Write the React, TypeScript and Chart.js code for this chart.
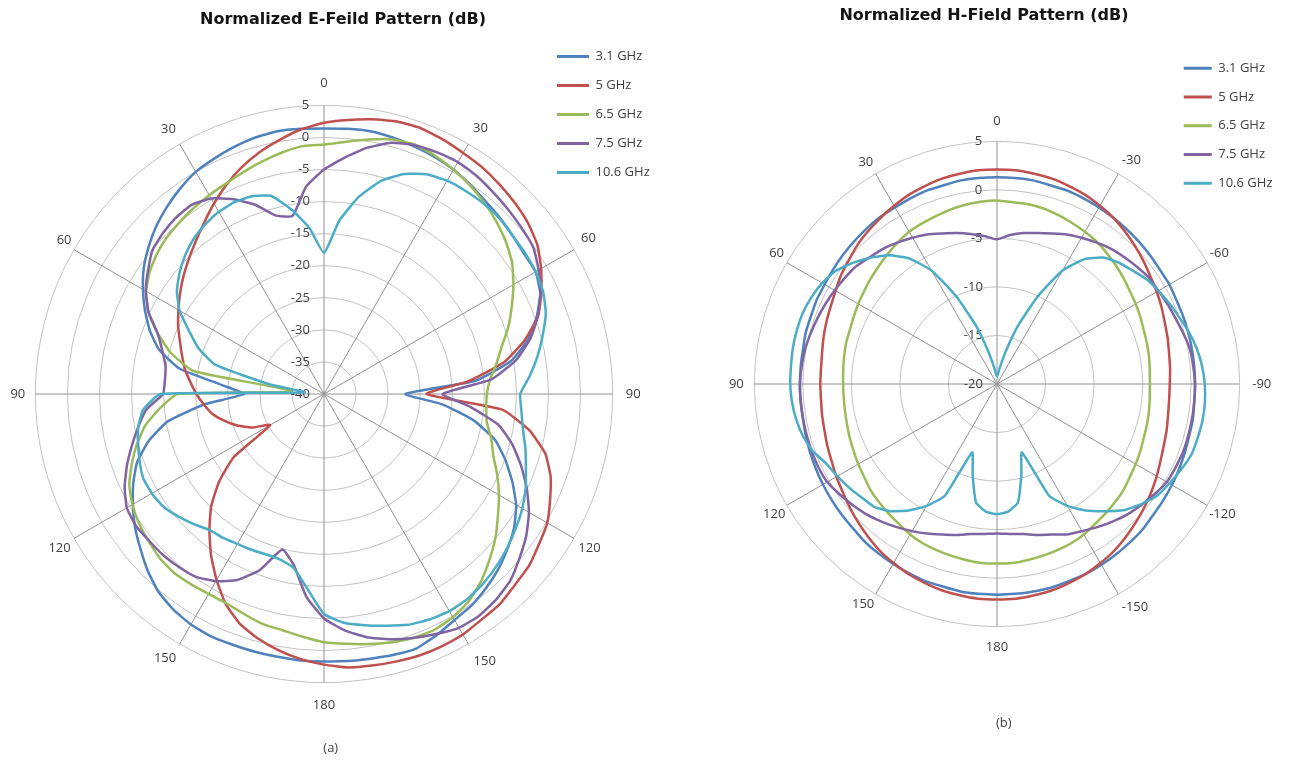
import React, { useEffect, useRef } from 'react';
import { Chart, registerables } from 'chart.js';

Chart.register(...registerables);

// ---------- categories: angle in degrees, clockwise from the top ----------
const ANGLES = Array.from({ length: 72 }, (_, i) => i * 5);
const E_AXIS_LABELS = ['0', '30', '60', '90', '120', '150', '180', '150', '120', '90', '60', '30'];
const H_AXIS_LABELS = ['0', '-30', '-60', '-90', '-120', '-150', '180', '150', '120', '90', '60', '30'];

const SERIES = ['3.1 GHz', '5 GHz', '6.5 GHz', '7.5 GHz', '10.6 GHz'];
const COLORS = ['#4F81BD', '#C0504D', '#9BBB59', '#8064A2', '#4BACC6'];

const E_MIN = -40;
const E_MAX = 5;
const H_MIN = -20;
const H_MAX = 5;
const STEP = 5;

// ---------- E-plane (dB), 0..355 deg step 5 ----------
const E_31 = [
  1.4, 1.5, 1.6, 1.4, 1.1, 0.8, 0.4, -0.2, -0.8, -1.2, -1.6, -1.9,
  -1.9, -2.8, -4.7, -7.0, -10.4, -16.3, -27.3, -21.5, -16.3, -12.4, -9.9, -7.6,
  -5.4, -3.8, -2.6, -1.5, -0.6, 0.2, 0.7, 1.5, 2.2, 2.1, 1.9, 1.8,
  1.7, 1.7, 1.6, 1.6, 1.6, 1.7, 1.5, 1.0, 0.2, -1.1, -2.6, -4.0,
  -5.6, -7.2, -9.0, -11.7, -15.2, -21.2, -27.5, -24.0, -17.1, -13.4, -11.1, -9.2,
  -7.4, -5.7, -4.3, -3.0, -1.9, -0.9, 0.0, 0.5, 1.0, 1.4, 1.6, 1.5,
];
const E_5 = [
  2.3, 2.9, 3.5, 4.0, 4.1, 3.8, 3.4, 3.1, 2.6, 2.1, 1.5, 0.6,
  -0.9, -2.6, -4.5, -7.6, -11.5, -17.5, -24.0, -12.1, -7.5, -4.3, -2.4, -1.1,
  0.2, 0.9, 1.7, 2.1, 2.7, 2.9, 3.3, 3.4, 3.4, 3.2, 3.0, 2.8,
  2.2, 1.5, 0.6, -0.5, -1.8, -3.8, -6.5, -9.3, -12.2, -15.1, -18.6, -22.8,
  -30.3, -27.6, -25.6, -23.9, -22.3, -21.2, -20.1, -19.1, -18.0, -17.1, -16.1, -14.9,
  -13.8, -12.6, -11.4, -10.2, -8.9, -7.4, -5.7, -4.0, -2.4, -1.0, 0.2, 1.4,
];
const E_65 = [
  -1.1, -0.5, 0.3, 1.1, 1.4, 1.0, 0.4, -0.3, -1.1, -2.0, -3.0, -4.2,
  -5.9, -7.7, -9.4, -11.3, -12.7, -14.0, -14.6, -14.6, -14.2, -13.0, -11.9, -10.2,
  -8.5, -6.9, -5.1, -3.5, -1.9, -0.6, 0.2, 0.6, 0.5, 0.1, -0.4, -0.9,
  -1.3, -2.0, -2.6, -2.9, -3.5, -4.0, -4.0, -3.8, -3.6, -3.8, -4.3, -4.8,
  -5.5, -6.5, -8.1, -9.8, -11.7, -14.3, -17.2, -35.0, -19.3, -15.3, -12.4, -9.8,
  -8.0, -6.8, -6.0, -5.4, -5.0, -4.6, -4.2, -3.8, -3.2, -2.5, -1.8, -1.2,
];
const E_75 = [
  -5.0, -3.0, -1.0, 0.55, 1.3, 1.6, 1.75, 1.5, 1.05, 0.65, 0.25, -0.15,
  -1.35, -2.75, -4.5, -6.7, -9.6, -13.8, -21.5, -17.1, -12.4, -9.6, -7.3, -5.1,
  -3.1, -1.5, -0.2, 1.1, 1.8, 2.2, 2.1, 1.3, 0.5, -0.4, -1.5, -3.0,
  -5.0, -8.3, -12.9, -14.9, -10.8, -8.0, -6.3, -5.2, -4.8, -4.5, -4.4, -4.2,
  -4.5, -5.7, -7.3, -9.0, -10.6, -12.2, -14.9, -15.1, -14.9, -13.9, -12.4, -9.8,
  -7.9, -6.5, -5.1, -4.5, -4.1, -4.0, -4.8, -6.5, -8.6, -11.2, -11.8, -7.6,
];
const E_106 = [
  -18.0, -12.9, -8.8, -5.6, -3.5, -2.2, -1.6, -1.4, -1.25, -1.3, -1.6, -1.7,
  -1.9, -2.3, -3.2, -4.7, -6.2, -7.8, -9.4, -9.1, -8.5, -7.5, -6.5, -5.3,
  -4.3, -3.5, -2.7, -2.0, -1.4, -1.0, -0.9, -1.2, -1.7, -2.6, -3.4, -4.2,
  -5.7, -9.6, -12.5, -13.3, -13.4, -13.2, -13.0, -12.6, -12.3, -11.3, -10.3, -9.4,
  -9.0, -8.9, -9.4, -10.0, -10.6, -11.7, -14.5, -37.0, -31.5, -22.5, -19.2, -16.8,
  -14.0, -12.0, -10.6, -9.4, -8.4, -7.7, -7.2, -7.0, -7.2, -8.0, -10.8, -14.0,
];

// ---------- H-plane (dB), 0..355 deg step 5 ----------
const H_31 = [
  1.3, 1.3, 1.3, 1.2, 1.2, 1.1, 1.0, 0.9, 0.8, 0.7, 0.6, 0.5,
  0.5, 0.4, 0.4, 0.4, 0.4, 0.4, 0.4, 0.4, 0.5, 0.5, 0.6, 0.7,
  0.8, 0.9, 1.0, 1.2, 1.3, 1.4, 1.5, 1.6, 1.6, 1.7, 1.7, 1.7,
  1.7, 1.7, 1.7, 1.6, 1.6, 1.5, 1.4, 1.3, 1.2, 1.0, 0.9, 0.8,
  0.7, 0.6, 0.5, 0.4, 0.3, 0.3, 0.3, 0.3, 0.3, 0.4, 0.4, 0.5,
  0.5, 0.6, 0.7, 0.8, 0.9, 1.0, 1.0, 1.1, 1.2, 1.2, 1.3, 1.3,
];
const H_5 = [
  2.1, 2.1, 2.0, 1.9, 1.7, 1.5, 1.2, 0.9, 0.5, 0.1, -0.3, -0.7,
  -1.0, -1.3, -1.6, -1.8, -2.0, -2.1, -2.2, -2.2, -2.1, -1.9, -1.7, -1.4,
  -1.0, -0.6, -0.2, 0.2, 0.6, 1.0, 1.3, 1.6, 1.8, 2.0, 2.1, 2.2,
  2.2, 2.2, 2.1, 2.0, 1.8, 1.6, 1.3, 1.0, 0.6, 0.2, -0.2, -0.6,
  -0.9, -1.2, -1.4, -1.6, -1.7, -1.8, -1.8, -1.8, -1.7, -1.5, -1.3, -1.1,
  -0.8, -0.4, -0.1, 0.3, 0.6, 0.9, 1.2, 1.5, 1.7, 1.9, 2.0, 2.1,
];
const H_65 = [
  -1.1, -1.2, -1.2, -1.3, -1.5, -1.7, -1.9, -2.1, -2.4, -2.7, -3.0, -3.3,
  -3.5, -3.7, -3.9, -4.0, -4.1, -4.2, -4.25, -4.2, -4.1, -4.0, -3.9, -3.7,
  -3.5, -3.3, -3.0, -2.8, -2.6, -2.4, -2.1, -1.9, -1.8, -1.7, -1.6, -1.5,
  -1.5, -1.5, -1.6, -1.7, -1.8, -1.9, -2.1, -2.4, -2.6, -2.8, -3.0, -3.3,
  -3.5, -3.7, -3.85, -4.0, -4.1, -4.15, -4.15, -4.1, -4.0, -3.9, -3.85, -3.7,
  -3.5, -3.3, -3.05, -2.8, -2.5, -2.2, -1.9, -1.75, -1.6, -1.4, -1.25, -1.15,
];
const H_75 = [
  -5.1, -4.6, -4.2, -3.9, -3.5, -3.0, -2.6, -2.2, -1.8, -1.5, -1.2, -0.9,
  -0.8, -0.6, -0.4, -0.1, 0.2, 0.3, 0.4, 0.4, 0.4, 0.4, 0.4, 0.3,
  0.2, -0.2, -0.6, -1.0, -1.5, -2.0, -2.5, -2.9, -3.5, -3.9, -4.3, -4.5,
  -4.6, -4.5, -4.3, -3.9, -3.5, -3.0, -2.5, -2.0, -1.5, -1.0, -0.6, -0.2,
  0.2, 0.3, 0.3, 0.3, 0.3, 0.3, 0.3, 0.2, 0.1, -0.1, -0.3, -0.5,
  -0.7, -0.9, -1.1, -1.5, -1.8, -2.2, -2.6, -3.0, -3.5, -3.9, -4.3, -4.7,
];
const H_106 = [
  -19.2, -19.0, -18.2, -16.5, -13.5, -10.0, -6.5, -4.3, -3.0, -2.3, -1.8, -1.2,
  -0.8, -0.4, 0.0, 0.5, 0.9, 1.2, 1.4, 1.5, 1.5, 1.4, 1.3, 0.9,
  0.5, 0.1, -0.7, -1.6, -2.9, -4.1, -5.5, -7.3, -12.5, -10.3, -7.6, -6.8,
  -6.6, -6.8, -7.6, -10.3, -12.5, -7.3, -5.5, -4.1, -2.9, -2.1, -1.8, -1.4,
  -1.0, -0.6, 0.2, 0.7, 1.0, 1.2, 1.3, 1.3, 1.35, 1.35, 1.3, 1.1,
  0.8, 0.3, -0.6, -1.6, -2.7, -4.2, -6.5, -10.0, -13.5, -16.5, -18.2, -19.0,
];

// ---------- styling / layout constants ----------
const TEXT = '#404040';
const FONT = 'Open Sans';
// padding of each angle label (per 30 deg direction, clockwise from top)
const E_LABEL_PAD = [8.3, 3, 1.7, 6.6, -1.5, 4, 8.3, 0.5, -2.6, 3.6, -3.6, 1];
const H_LABEL_PAD = [6.2, 0.5, -3.4, 6, -4.2, 0.2, 6.2, -3.7, -4.8, 4, -3.3, -1.8];

function padTick(s: string) {
  let w = 0;
  for (const ch of s) w += ch === '-' ? 4.2 : 7.4;
  const n = Math.max(0, Math.round((w + 30) / 3.38));
  return s + ' '.repeat(n);
}

function radarConfig(o: any) {
  const labels = ANGLES.map((a, i) => (i % 6 === 0 ? o.axisLabels[i / 6] : ''));
  return {
    type: 'radar',
    data: {
      labels,
      datasets: o.series.map((d: number[], i: number) => ({
        label: SERIES[i],
        data: d,
        borderColor: COLORS[i],
        backgroundColor: COLORS[i],
        borderWidth: 2.5,
        borderJoinStyle: 'round',
        pointRadius: 0,
        pointHoverRadius: 0,
        pointHitRadius: 0,
        fill: false,
        tension: 0.15,
        order: SERIES.length - 1 - i,
      })),
    },
    options: {
      animation: false,
      responsive: true,
      maintainAspectRatio: false,
      events: [],
      layout: { padding: 0 },
      plugins: {
        legend: { display: false },
        tooltip: { enabled: false },
        title: {
          display: true,
          position: 'bottom',
          text: o.caption,
          color: TEXT,
          font: { family: FONT, size: 13, weight: 'normal' },
          padding: { top: o.capTop, bottom: 2.2 },
        },
      },
      scales: {
        r: {
          min: o.min,
          max: o.max,
          beginAtZero: false,
          startAngle: 0,
          grid: { circular: true, color: '#c2c2c2', lineWidth: 1 },
          angleLines: {
            display: true,
            color: '#909090',
            lineWidth: (c: any) => (c.index % 6 === 0 ? 1 : 0),
          },
          pointLabels: {
            display: true,
            color: TEXT,
            font: { family: FONT, size: 13 },
            padding: (c: any) => (c.index % 6 === 0 ? o.labelPad[c.index / 6] : 0),
          },
          ticks: {
            stepSize: STEP,
            color: TEXT,
            font: { family: FONT, size: 13 },
            showLabelBackdrop: false,
            backdropPadding: 0,
            callback: (v: any) => padTick(String(v)),
          },
        },
      },
    },
  };
}

function titleConfig(text: string, padTop: number) {
  return {
    type: 'line',
    data: { labels: [], datasets: [] },
    options: {
      animation: false,
      responsive: true,
      maintainAspectRatio: false,
      events: [],
      plugins: {
        legend: { display: false },
        tooltip: { enabled: false },
        title: {
          display: true,
          text,
          color: '#141414',
          font: { family: 'DejaVu Sans', size: 16, weight: 'bold' },
          padding: { top: padTop, bottom: 0 },
        },
      },
      scales: { x: { display: false }, y: { display: false } },
    },
  };
}

function legendConfig(boxW: number, pad: number) {
  return {
    type: 'line',
    data: {
      labels: [],
      datasets: SERIES.map((s, i) => ({
        label: s,
        data: [],
        borderColor: COLORS[i],
        backgroundColor: COLORS[i],
        borderWidth: 0,
      })),
    },
    options: {
      animation: false,
      responsive: true,
      maintainAspectRatio: false,
      events: [],
      plugins: {
        tooltip: { enabled: false },
        title: { display: false },
        legend: {
          display: true,
          position: 'left',
          align: 'start',
          labels: {
            boxWidth: boxW,
            boxHeight: 3,
            padding: pad,
            color: TEXT,
            font: { family: FONT, size: 13 },
          },
        },
      },
      scales: { x: { display: false }, y: { display: false } },
    },
  };
}

function ChartBox(props: { left: number; top: number; width: number; height: number; make: () => any }) {
  const ref = useRef<HTMLCanvasElement>(null);
  useEffect(() => {
    if (!ref.current) return;
    const chart = new Chart(ref.current, props.make());
    return () => chart.destroy();
  }, []);
  return (
    <div style={{ position: 'absolute', left: props.left, top: props.top, width: props.width, height: props.height }}>
      <canvas ref={ref} />
    </div>
  );
}

export default function App() {
  return (
    <div
      style={{
        position: 'fixed',
        left: 0,
        top: 0,
        width: 1289,
        height: 761,
        overflow: 'hidden',
        background: '#ffffff',
      }}
    >
      <ChartBox
        left={-26}
        top={75}
        width={700}
        height={683}
        make={() =>
          radarConfig({
            series: [E_31, E_5, E_65, E_75, E_106],
            axisLabels: E_AXIS_LABELS,
            min: E_MIN,
            max: E_MAX,
            caption: '    (a)',
            capTop: 27.2,
            labelPad: E_LABEL_PAD,
          })
        }
      />
      <ChartBox
        left={677}
        top={114}
        width={640}
        height={619}
        make={() =>
          radarConfig({
            series: [H_31, H_5, H_65, H_75, H_106],
            axisLabels: H_AXIS_LABELS,
            min: H_MIN,
            max: H_MAX,
            caption: '    (b)',
            capTop: 59.2,
            labelPad: H_LABEL_PAD,
          })
        }
      />
      <ChartBox left={93} top={0} width={500} height={50} make={() => titleConfig('Normalized E-Feild Pattern (dB)', 10)} />
      <ChartBox left={734} top={0} width={500} height={46} make={() => titleConfig('Normalized H-Field Pattern (dB)', 6.4)} />
      <ChartBox left={541} top={34} width={260} height={180} make={() => legendConfig(32, 16)} />
      <ChartBox left={1168} top={46} width={260} height={180} make={() => legendConfig(28, 15.75)} />
    </div>
  );
}
